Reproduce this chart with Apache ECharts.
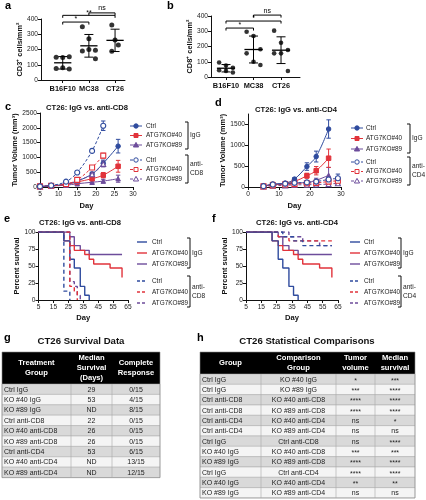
<!DOCTYPE html>
<html><head><meta charset="utf-8">
<script src="https://cdn.jsdelivr.net/npm/echarts@6/dist/echarts.min.js"></script>
<style>html,body{margin:0;padding:0;background:#fff}#c{width:426px;height:500px}</style>
</head><body><div id="c"></div>
<script>
const FONT = '"Liberation Sans", Arial, sans-serif';
const BLUE = '#2F4B9E', RED = '#E1333B', PURPLE = '#6D4C9B', INK = '#111';

// ---------- a / b : T cell density ----------
const cellGroups = ['B16F10', 'MC38', 'CT26'];
const cd3B16F10 = [150, 148, 152, 75, 80, 72];
const cd3MC38 = [350, 270, 195, 190, 200, 140];
const cd3CT26 = [360, 262, 230, 188];
const cd8B16F10 = [95, 75, 60, 45, 40, 30];
const cd8MC38 = [297, 269, 182, 155, 100, 79];
const cd8CT26 = [304, 225, 177, 155, 155, 39];
const yTicksAB = [0, 100, 200, 300, 400];
const sigA = ['**', '*', 'ns'];
const sigAPairs = [[0, 2], [0, 1], [1, 2]];
const sigB = ['*', '*', 'ns'];
const sigBPairs = [[0, 2], [0, 1], [1, 2]];

// ---------- c / d : tumor growth ----------
const daysC = [5, 8, 12, 15, 19, 22, 26];
const cCtrlIgG = [20, 40, 100, 200, 440, 800, 1380];
const cCtrlIgGSem = [5, 8, 15, 30, 60, 110, 230];
const cKO40IgG = [20, 40, 80, 170, 280, 400, 700];
const cKO40IgGSem = [5, 8, 12, 30, 60, 90, 200];
const cKO89IgG = [20, 35, 60, 110, 160, 200, 280];
const cKO89IgGSem = [5, 8, 10, 20, 40, 60, 120];
const cCtrlCD8 = [20, 50, 180, 490, 1220, 2070];
const cCtrlCD8Sem = [5, 10, 25, 40, 60, 160];
const cKO40CD8 = [20, 40, 100, 240, 660, 1060];
const cKO40CD8Sem = [5, 8, 15, 30, 60, 80];
const cKO89CD8 = [20, 40, 90, 210, 430, 780];
const cKO89CD8Sem = [5, 8, 15, 30, 60, 100];

const daysD = [5, 8, 12, 15, 19, 22, 26, 29];
const dCtrlIgG = [20, 70, 90, 190, 490, 730, 1390];
const dCtrlIgGSem = [5, 15, 15, 30, 90, 130, 220];
const dKO40IgG = [20, 60, 80, 130, 270, 390, 690];
const dKO40IgGSem = [5, 15, 15, 25, 60, 100, 220];
const dKO89IgG = [20, 50, 70, 90, 110, 160, 280];
const dKO89IgGSem = [5, 10, 15, 20, 30, 50, 190];
const dCtrlCD4 = [20, 60, 80, 100, 110, 130, 180, 210];
const dCtrlCD4Sem = [5, 10, 15, 20, 30, 40, 60, 100];
const dKO40CD4 = [15, 40, 60, 70, 90, 100, 130, 150];
const dKO40CD4Sem = [5, 10, 10, 20, 20, 30, 50, 80];
const dKO89CD4 = [15, 30, 40, 50, 55, 60, 70, 90];
const dKO89CD4Sem = [5, 5, 10, 10, 15, 20, 20, 30];

// ---------- e / f : survival ----------
const tCtrlIgG = [5, 22, 26, 29, 33, 36, 39];
const sCtrlIgG = [100, 87, 60, 47, 20, 7, 0];
const tKO40IgG = [5, 22, 26, 29, 36, 39, 42, 53, 61];
const sKO40IgG = [100, 87, 80, 73, 67, 60, 53, 47, 33];
const tKO89IgG = [5, 26, 29, 33, 39, 61];
const sKO89IgG = [100, 93, 80, 73, 67, 67];
const tCtrlCD8 = [5, 22, 26];
const sCtrlCD8 = [100, 13, 0];
const tKO40CD8 = [5, 26, 29, 31];
const sKO40CD8 = [100, 20, 13, 0];
const tKO89CD8 = [5, 26, 29, 31, 33];
const sKO89CD8 = [100, 27, 20, 7, 0];
const tCtrlCD4 = [5, 29, 36, 42, 61];
const sCtrlCD4 = [100, 93, 87, 80, 80];
const tKO40CD4 = [5, 26, 33, 61];
const sKO40CD4 = [100, 93, 87, 87];
const tKO89CD4 = [5, 33, 42, 53, 61];
const sKO89CD4 = [100, 93, 87, 80, 80];

// ---------- g / h : tables ----------
const survHeader = ['Treatment\nGroup', 'Median\nSurvival\n(Days)', 'Complete\nResponse'];
const survGroup = ['Ctrl IgG', 'KO #40 IgG', 'KO #89 IgG', 'Ctrl anti-CD8', 'KO #40 anti-CD8', 'KO #89 anti-CD8', 'Ctrl anti-CD4', 'KO #40 anti-CD4', 'KO #89 anti-CD4'];
const survMedian = ['29', '53', 'ND', '22', '26', '26', '53', 'ND', 'ND'];
const survCR = ['0/15', '4/15', '8/15', '0/15', '0/15', '0/15', '6/15', '13/15', '12/15'];
const compHeader = ['Group', 'Comparison\nGroup', 'Tumor\nvolume', 'Median\nsurvival'];
const compGroup = ['Ctrl IgG', 'Ctrl IgG', 'Ctrl anti-CD8', 'Ctrl anti-CD8', 'Ctrl anti-CD4', 'Ctrl anti-CD4', 'Ctrl IgG', 'KO #40 IgG', 'KO #89 IgG', 'Ctrl IgG', 'KO #40 IgG', 'KO #89 IgG'];
const compVs = ['KO #40 IgG', 'KO #89 IgG', 'KO #40 anti-CD8', 'KO #89 anti-CD8', 'KO #40 anti-CD4', 'KO #89 anti-CD4', 'Ctrl anti-CD8', 'KO #40 anti-CD8', 'KO #89 anti-CD8', 'Ctrl anti-CD4', 'KO #40 anti-CD4', 'KO #89 anti-CD4'];
const compTumor = ['*', '***', '****', '****', 'ns', 'ns', 'ns', '***', '****', '****', '**', 'ns'];
const compSurv = ['***', '****', '****', '****', '*', 'ns', '****', '***', '****', '****', '**', 'ns'];

const legendNames = ['Ctrl', 'ATG7KO#40', 'ATG7KO#89'];

// ================= layout helpers =================
const chart = echarts.init(document.getElementById('c'), null, {renderer: 'canvas', width: 426, height: 500});

function txt(t, x, y, o) {
  o = o || {};
  return {type: 'text', x: x, y: y, rotation: o.rot || 0, z: 10, silent: true,
    style: {text: t, font: (o.bold ? 'bold ' : '') + (o.size || 7) + 'px ' + FONT, fill: o.color || INK,
      align: o.align || 'left', verticalAlign: o.va || 'middle', textAlign: o.align || 'left', textVerticalAlign: o.va || 'middle',
      lineHeight: o.lh || undefined}};
}
function ln(x1, y1, x2, y2, color, w, dash) {
  return {type: 'line', silent: true, z: 10, shape: {x1: x1, y1: y1, x2: x2, y2: y2}, style: {stroke: color, lineWidth: w || 1, lineDash: dash || null}};
}
function sym(kind, cx, cy, color, open) {
  const st = {fill: open ? '#fff' : color, stroke: color, lineWidth: 1};
  if (kind === 'circle') return {type: 'circle', z: 11, silent: true, shape: {cx: cx, cy: cy, r: 2.2}, style: st};
  if (kind === 'rect') return {type: 'rect', z: 11, silent: true, shape: {x: cx - 2, y: cy - 2, width: 4, height: 4}, style: st};
  return {type: 'polygon', z: 11, silent: true, shape: {points: [[cx, cy - 2.6], [cx + 2.6, cy + 2], [cx - 2.6, cy + 2]]}, style: st};
}
function legendBlock(x0, len, tx, ys, withSym, bx, groupLabel, antiLabel) {
  const els = [];
  const colors = [BLUE, RED, PURPLE];
  const syms = ['circle', 'rect', 'triangle'];
  for (let i = 0; i < 6; i++) {
    const k = i % 3, dashed = i >= 3, y = ys[i];
    els.push(ln(x0, y, x0 + len, y, colors[k], withSym ? 1 : 1.4, dashed ? [3, 2] : null));
    if (withSym) els.push(sym(syms[k], x0 + len / 2, y, colors[k], dashed));
    els.push(txt(legendNames[k], tx, y, {size: 6.4, color: '#222'}));
  }
  const g1 = [ys[0] - 4, ys[2] + 4], g2 = [ys[3] - 5, ys[5] + 4];
  els.push({type: 'polyline', silent: true, shape: {points: [[bx - 3, g1[0]], [bx, g1[0]], [bx, g1[1]], [bx - 3, g1[1]]]}, style: {stroke: INK, lineWidth: 1, fill: null}});
  els.push({type: 'polyline', silent: true, shape: {points: [[bx - 3, g2[0]], [bx, g2[0]], [bx, g2[1]], [bx - 3, g2[1]]]}, style: {stroke: INK, lineWidth: 1, fill: null}});
  els.push(txt(groupLabel, bx + 2, (g1[0] + g1[1]) / 2, {size: 6.6, color: '#222'}));
  els.push(txt(antiLabel, bx + 2, (g2[0] + g2[1]) / 2, {size: 6.6, color: '#222', lh: 9}));
  return els;
}
function tableBlock(x, top, headH, rowH, header, columns) {
  const els = [];
  const x0 = x[0], x1 = x[x.length - 1];
  const nRows = columns[0].length;
  els.push({type: 'rect', silent: true, shape: {x: x0, y: top, width: x1 - x0, height: headH}, style: {fill: '#000'}});
  header.forEach((h, j) => els.push(txt(h, (x[j] + x[j + 1]) / 2, top + headH / 2, {size: 7.6, bold: true, color: '#fff', align: 'center', lh: 10})));
  for (let r = 0; r < nRows; r++) {
    const y = top + headH + r * rowH;
    els.push({type: 'rect', silent: true, shape: {x: x0, y: y, width: x1 - x0, height: rowH}, style: {fill: r % 2 === 0 ? '#d9d9d9' : '#f4f4f4', stroke: '#a8a8a8', lineWidth: 0.5}});
    columns.forEach((col, j) => {
      if (j === 0) els.push(txt(col[r], x[0] + 2, y + rowH / 2 + 0.5, {size: 7, color: '#222'}));
      else els.push(txt(col[r], (x[j] + x[j + 1]) / 2, y + rowH / 2 + (col[r].indexOf('*') >= 0 ? 1.5 : 0.5), {size: 7, color: '#222', align: 'center'}));
    });
  }
  for (let j = 1; j < x.length - 1; j++) els.push(ln(x[j], top + headH, x[j], top + headH + nRows * rowH, '#a8a8a8', 0.6));
  els.push({type: 'rect', silent: true, shape: {x: x0, y: top, width: x1 - x0, height: headH + nRows * rowH}, style: {fill: null, stroke: '#888', lineWidth: 0.6}});
  return els;
}

// ================= axes =================
const tickFont = {fontFamily: FONT, fontSize: 6.6, color: '#222', formatter: v => String(v)};
function xAx(gi, min, max, ticks, extra) {
  return Object.assign({type: 'value', gridIndex: gi, min: min, max: max,
    axisLine: {show: true, onZero: false, lineStyle: {color: INK, width: 1}},
    axisTick: {show: true, length: 3, customValues: ticks, lineStyle: {color: INK}},
    axisLabel: Object.assign({customValues: ticks, margin: 4}, tickFont),
    splitLine: {show: false}, nameTextStyle: {fontFamily: FONT, fontWeight: 'bold', fontSize: 7.6, color: INK}}, extra || {});
}
function yAx(gi, min, max, ticks, name, gap) {
  return {type: 'value', gridIndex: gi, min: min, max: max, name: name, nameLocation: 'middle', nameGap: gap, nameRotate: 90,
    nameTextStyle: {fontFamily: FONT, fontWeight: 'bold', fontSize: 7.4, color: INK},
    axisLine: {show: true, onZero: false, lineStyle: {color: INK, width: 1}},
    axisTick: {show: true, length: 3, customValues: ticks, lineStyle: {color: INK}},
    axisLabel: Object.assign({customValues: ticks, margin: 3}, tickFont),
    splitLine: {show: false}};
}

const grids = [
  {left: 41, top: 19, width: 84, height: 61},
  {left: 211, top: 16, width: 89, height: 61},
  {left: 40, top: 113, width: 93, height: 74},
  {left: 248, top: 114, width: 93, height: 73},
  {left: 38.5, top: 232, width: 89.5, height: 68},
  {left: 246, top: 232, width: 92, height: 68}
];
const catLabel = {formatter: v => cellGroups[Math.round(v)] || '', fontWeight: 'bold', fontSize: 7.4, color: INK, margin: 5};
const xAxes = [
  xAx(0, -0.83, 2.38, [0, 1, 2], {axisLabel: Object.assign({customValues: [0, 1, 2], fontFamily: FONT}, catLabel)}),
  xAx(1, -0.545, 2.69, [0, 1, 2], {axisLabel: Object.assign({customValues: [0, 1, 2], fontFamily: FONT}, catLabel)}),
  xAx(2, 5, 30, [5, 10, 15, 20, 25, 30], {name: 'Day', nameLocation: 'middle', nameGap: 15}),
  xAx(3, 0, 30, [0, 10, 20, 30], {name: 'Day', nameLocation: 'middle', nameGap: 15}),
  xAx(4, 5, 65, [5, 15, 25, 35, 45, 55, 65], {name: 'Day', nameLocation: 'middle', nameGap: 14}),
  xAx(5, 5, 65, [5, 15, 25, 35, 45, 55, 65], {name: 'Day', nameLocation: 'middle', nameGap: 14})
];
const yAxes = [
  yAx(0, 0, 400, yTicksAB, 'CD3⁺ cells/mm²', 15),
  yAx(1, 0, 400, yTicksAB, 'CD8⁺ cells/mm²', 18),
  yAx(2, 0, 2500, [0, 500, 1000, 1500, 2000, 2500], 'Tumor Volume (mm³)', 20),
  yAx(3, 0, 1750, [0, 500, 1000, 1500], 'Tumor Volume (mm³)', 18),
  yAx(4, 0, 100, [0, 25, 50, 75, 100], 'Percent survival', 14),
  yAx(5, 0, 100, [0, 25, 50, 75, 100], 'Percent survival', 14)
];

// ================= series =================
const series = [];
const dotOffsets = [-0.25, 0, 0.25, -0.25, 0, 0.25];
function mean(a) { return a.reduce((s, v) => s + v, 0) / a.length; }
function sd(a) { const m = mean(a); return Math.sqrt(a.reduce((s, v) => s + (v - m) * (v - m), 0) / (a.length - 1)); }
function dotPanel(gi, groups, size) {
  const pts = [];
  groups.forEach((vals, c) => vals.forEach((v, i) => pts.push([c + dotOffsets[i % dotOffsets.length] * (vals.length > 4 ? 1 : 0.5), v])));
  series.push({type: 'scatter', xAxisIndex: gi, yAxisIndex: gi, data: pts, symbolSize: size, itemStyle: {color: '#000'}, z: 3});
  series.push({type: 'custom', xAxisIndex: gi, yAxisIndex: gi, clip: false, z: 4,
    data: groups.map((vals, c) => [c, mean(vals), sd(vals)]),
    renderItem: (p, api) => {
      const c = api.value(0), m = api.value(1), s = api.value(2);
      const ml = api.coord([c - 0.33, m]), mr = api.coord([c + 0.33, m]);
      const t = api.coord([c, m + s]), b = api.coord([c, m - s]);
      const cw = 4.5;
      return {type: 'group', children: [
        {type: 'line', shape: {x1: ml[0], y1: ml[1], x2: mr[0], y2: mr[1]}, style: {stroke: '#000', lineWidth: 1.3}},
        {type: 'line', shape: {x1: t[0], y1: t[1], x2: b[0], y2: b[1]}, style: {stroke: '#000', lineWidth: 1}},
        {type: 'line', shape: {x1: t[0] - cw, y1: t[1], x2: t[0] + cw, y2: t[1]}, style: {stroke: '#000', lineWidth: 1}},
        {type: 'line', shape: {x1: b[0] - cw, y1: b[1], x2: b[0] + cw, y2: b[1]}, style: {stroke: '#000', lineWidth: 1}}
      ]};
    }});
}
function sigSeries(gi, labels, pairs, levels) {
  series.push({type: 'custom', xAxisIndex: gi, yAxisIndex: gi, clip: false, z: 5,
    data: labels.map((l, i) => [pairs[i][0], pairs[i][1], levels[i], i]),
    renderItem: (p, api) => {
      const a = api.coord([api.value(0), api.value(2)]), b = api.coord([api.value(1), api.value(2)]);
      const lab = labels[api.value(3)];
      return {type: 'group', children: [
        {type: 'polyline', shape: {points: [[a[0], a[1] + 2.5], [a[0], a[1]], [b[0], b[1]], [b[0], b[1] + 2.5]]}, style: {stroke: '#000', lineWidth: 1, fill: null}},
        {type: 'text', x: (a[0] + b[0]) / 2, y: a[1] - (lab === 'ns' ? 1 : -1), style: {text: lab, font: '7px ' + FONT, fill: '#000', align: 'center', verticalAlign: 'bottom'}}
      ]};
    }});
}
dotPanel(0, [cd3B16F10, cd3MC38, cd3CT26], 5);
sigSeries(0, sigA, sigAPairs, [424, 380, 440]);
dotPanel(1, [cd8B16F10, cd8MC38, cd8CT26], 4.6);
sigSeries(1, sigB, sigBPairs, [367, 321, 406]);

function growth(gi, days, vals, sem, color, symbol, open) {
  const data = vals.map((v, i) => [days[i], v]);
  series.push({type: 'line', xAxisIndex: gi, yAxisIndex: gi, data: data, symbol: symbol, symbolSize: open ? 5 : 4.5,
    smooth: 0.35, lineStyle: {color: color, width: 1, type: open ? [3, 2] : 'solid'},
    itemStyle: open ? {color: '#fff', borderColor: color, borderWidth: 1.1} : {color: color, borderColor: color},
    z: open ? 4 : 3});
  series.push({type: 'custom', xAxisIndex: gi, yAxisIndex: gi, z: 2,
    data: vals.map((v, i) => [days[i], v, sem[i]]),
    renderItem: (p, api) => {
      const x = api.value(0), v = api.value(1), e = api.value(2);
      const t = api.coord([x, v + e]), b = api.coord([x, Math.max(0, v - e)]);
      return {type: 'group', children: [
        {type: 'line', shape: {x1: t[0], y1: t[1], x2: b[0], y2: b[1]}, style: {stroke: color, lineWidth: 1}},
        {type: 'line', shape: {x1: t[0] - 2.2, y1: t[1], x2: t[0] + 2.2, y2: t[1]}, style: {stroke: color, lineWidth: 1}},
        {type: 'line', shape: {x1: b[0] - 2.2, y1: b[1], x2: b[0] + 2.2, y2: b[1]}, style: {stroke: color, lineWidth: 1}}
      ]};
    }});
}
growth(2, daysC, cKO89IgG, cKO89IgGSem, PURPLE, 'triangle', false);
growth(2, daysC, cKO40IgG, cKO40IgGSem, RED, 'rect', false);
growth(2, daysC, cCtrlIgG, cCtrlIgGSem, BLUE, 'circle', false);
growth(2, daysC, cKO89CD8, cKO89CD8Sem, PURPLE, 'triangle', true);
growth(2, daysC, cKO40CD8, cKO40CD8Sem, RED, 'rect', true);
growth(2, daysC, cCtrlCD8, cCtrlCD8Sem, BLUE, 'circle', true);
growth(3, daysD, dKO89IgG, dKO89IgGSem, PURPLE, 'triangle', false);
growth(3, daysD, dKO40IgG, dKO40IgGSem, RED, 'rect', false);
growth(3, daysD, dCtrlIgG, dCtrlIgGSem, BLUE, 'circle', false);
growth(3, daysD, dKO89CD4, dKO89CD4Sem, PURPLE, 'triangle', true);
growth(3, daysD, dKO40CD4, dKO40CD4Sem, RED, 'rect', true);
growth(3, daysD, dCtrlCD4, dCtrlCD4Sem, BLUE, 'circle', true);

function km(gi, t, s, color, dashed) {
  series.push({type: 'line', xAxisIndex: gi, yAxisIndex: gi, step: 'end', symbol: 'none',
    data: t.map((d, i) => [d, s[i]]), lineStyle: {color: color, width: 1.4, type: dashed ? [4, 3] : 'solid'}, z: dashed ? 4 : 3});
}
km(4, tKO89IgG, sKO89IgG, PURPLE, false);
km(4, tKO40IgG, sKO40IgG, RED, false);
km(4, tCtrlIgG, sCtrlIgG, BLUE, false);
km(4, tKO89CD8, sKO89CD8, PURPLE, true);
km(4, tKO40CD8, sKO40CD8, RED, true);
km(4, tCtrlCD8, sCtrlCD8, BLUE, true);
km(5, tKO89IgG, sKO89IgG, PURPLE, false);
km(5, tKO40IgG, sKO40IgG, RED, false);
km(5, tCtrlIgG, sCtrlIgG, BLUE, false);
km(5, tKO89CD4, sKO89CD4, PURPLE, true);
km(5, tKO40CD4, sKO40CD4, RED, true);
km(5, tCtrlCD4, sCtrlCD4, BLUE, true);

// ================= graphics =================
let g = [];
[['a', 5, 6], ['b', 167, 6], ['c', 5, 107], ['d', 215, 103], ['e', 4, 219], ['f', 212, 219], ['g', 4, 338], ['h', 197, 338]]
  .forEach(l => g.push(txt(l[0], l[1], l[2], {size: 11, bold: true, color: '#000'})));
g.push(txt('CT26: IgG vs. anti-CD8', 87, 108, {size: 7.6, bold: true, align: 'center'}));
g.push(txt('CT26: IgG vs. anti-CD4', 296, 110, {size: 7.6, bold: true, align: 'center'}));
g.push(txt('CT26: IgG vs. anti-CD8', 80, 223, {size: 7.6, bold: true, align: 'center'}));
g.push(txt('CT26: IgG vs. anti-CD4', 297, 223, {size: 7.6, bold: true, align: 'center'}));
g = g.concat(legendBlock(130, 12, 146, [126, 135.5, 145, 160, 169.5, 179], true, 188, 'IgG', 'anti-\nCD8'));
g = g.concat(legendBlock(351, 12, 366, [128, 138.5, 149, 162, 171.5, 181], true, 410, 'IgG', 'anti-\nCD4'));
g = g.concat(legendBlock(137, 10, 152, [242, 253, 264, 281, 292, 303], false, 190, 'IgG', 'anti-\nCD8'));
g = g.concat(legendBlock(350, 10, 364, [242, 253, 264, 281, 292, 303], false, 401, 'IgG', 'anti-\nCD4'));
g.push(txt('CT26 Survival Data', 81, 341, {size: 9.6, bold: true, align: 'center'}));
g.push(txt('CT26 Statistical Comparisons', 307, 341, {size: 9.6, bold: true, align: 'center'}));
g = g.concat(tableBlock([2, 71, 112, 160], 352, 32, 10.4, survHeader, [survGroup, survMedian, survCR]));
g = g.concat(tableBlock([200, 261, 336, 375, 415], 352, 22, 10.33, compHeader, [compGroup, compVs, compTumor, compSurv]));

chart.setOption({
  animation: false,
  backgroundColor: '#fff',
  textStyle: {fontFamily: FONT},
  grid: grids,
  xAxis: xAxes,
  yAxis: yAxes,
  series: series,
  graphic: {elements: g}
});
</script></body></html>
